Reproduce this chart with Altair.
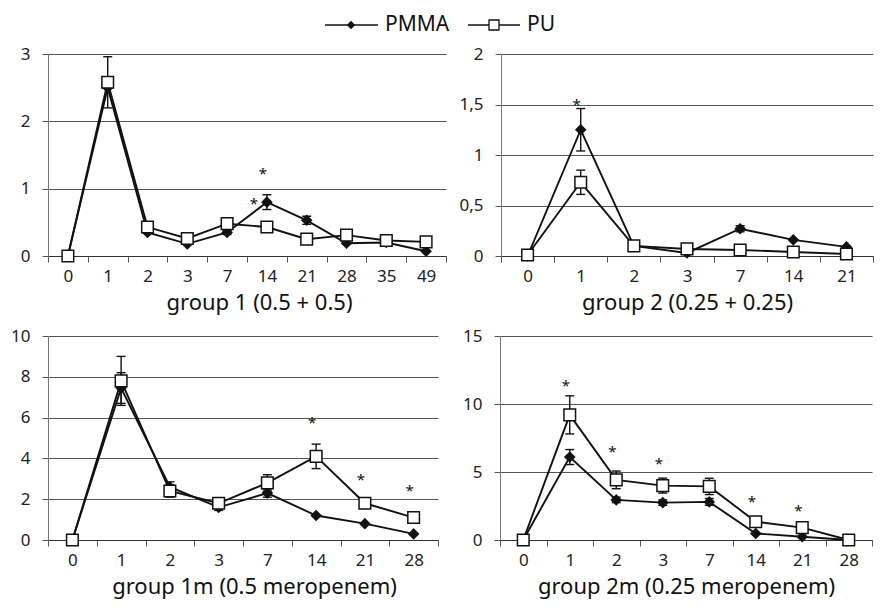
import altair as alt
import pandas as pd

FONT = "Noto Sans"
INK = "#111111"
GRID = "#555555"

series_names = ["PMMA", "PU"]

# ---- group 1 (0.5 + 0.5)
days_1 = ["0", "1", "2", "3", "7", "14", "21", "28", "35", "49"]
pmma_1 = [0.0, 2.5, 0.35, 0.18, 0.35, 0.80, 0.53, 0.19, 0.20, 0.07]
pmma_1_err = [0, 0, 0, 0, 0.03, 0.11, 0.06, 0, 0, 0]
pu_1 = [0.0, 2.58, 0.43, 0.26, 0.48, 0.43, 0.25, 0.31, 0.23, 0.21]
pu_1_err = [0, 0.38, 0, 0, 0, 0, 0, 0, 0, 0]
star_1_days = ["14"]
star_1_vals = [1.27]
star_1_side_days = ["14"]
star_1_side_vals = [0.83]

# ---- group 2 (0.25 + 0.25)
days_2 = ["0", "1", "2", "3", "7", "14", "21"]
pmma_2 = [0.0, 1.25, 0.10, 0.03, 0.27, 0.16, 0.09]
pmma_2_err = [0, 0.21, 0, 0, 0.03, 0, 0]
pu_2 = [0.01, 0.73, 0.10, 0.07, 0.06, 0.04, 0.02]
pu_2_err = [0, 0.12, 0, 0, 0, 0, 0]
star_2_days = ["1"]
star_2_vals = [1.53]

# ---- group 1m (0.5 meropenem)
days_3 = ["0", "1", "2", "3", "7", "14", "21", "28"]
pmma_3 = [0.0, 7.45, 2.6, 1.6, 2.3, 1.2, 0.8, 0.3]
pmma_3_err = [0, 0.75, 0.25, 0.15, 0.2, 0, 0, 0]
pu_3 = [0.0, 7.8, 2.4, 1.8, 2.8, 4.1, 1.8, 1.1]
pu_3_err = [0, 1.2, 0.3, 0, 0.4, 0.6, 0, 0]
star_3_days = ["14", "21", "28"]
star_3_vals = [5.93, 3.12, 2.59]

# ---- group 2m (0.25 meropenem)
days_4 = ["0", "1", "2", "3", "7", "14", "21", "28"]
pmma_4 = [0.0, 6.1, 2.95, 2.75, 2.8, 0.48, 0.24, 0.0]
pmma_4_err = [0, 0.55, 0.2, 0.2, 0.25, 0, 0, 0]
pu_4 = [0.0, 9.2, 4.42, 4.0, 3.94, 1.34, 0.91, 0.0]
pu_4_err = [0, 1.4, 0.65, 0.55, 0.6, 0, 0, 0]
star_4_days = ["1", "2", "3", "14", "21"]
star_4_vals = [11.65, 6.76, 5.88, 3.1, 2.39]


def build_df(days, pmma, pmma_err, pu, pu_err):
    recs = []
    for name, vals, errs in ((series_names[0], pmma, pmma_err), (series_names[1], pu, pu_err)):
        for d, v, e in zip(days, vals, errs):
            recs.append({"day": d, "series": name, "value": v, "err": e,
                         "lo": v - e, "hi": v + e})
    return pd.DataFrame(recs)


def panel(days, pmma, pmma_err, pu, pu_err, star_days, star_vals, ymax, yticks,
          title, width, height, min_ext, title_x=None, side_days=None, side_vals=None):
    df = build_df(days, pmma, pmma_err, pu, pu_err)
    axis_kw = dict(title=title, labelAngle=0, tickBand="extent", grid=False,
                   tickSize=6, labelPadding=6.5, titlePadding=8,
                   domainColor="#333333", tickColor="#555555")
    if title_x is not None:
        axis_kw["titleX"] = title_x
        axis_kw["titleAlign"] = "center"
    xenc = alt.X("day:N", sort=days,
                 scale=alt.Scale(type="band", paddingInner=0, paddingOuter=0),
                 axis=alt.Axis(**axis_kw))
    yscale = alt.Scale(domain=[0, ymax], nice=False, zero=True)
    yaxis = alt.Axis(title=None, values=yticks, grid=True, tickSize=6, labelPadding=12,
                     labelExpr="replace(toString(datum.value), '.', ',')",
                     minExtent=min_ext, domainColor="#777777", tickColor=GRID)

    def Y(field):
        return alt.Y(field, scale=yscale, axis=yaxis)

    base = alt.Chart(df)
    pm = base.transform_filter(alt.datum.series == series_names[0])
    pu = base.transform_filter(alt.datum.series == series_names[1])
    errs = base.transform_filter("datum.err > 0")

    layers = [
        pm.mark_line(color=INK, strokeWidth=1.9).encode(x=xenc, y=Y("value:Q")),
        pu.mark_line(color=INK, strokeWidth=1.9).encode(x=xenc, y=Y("value:Q")),
        errs.mark_rule(color=INK, strokeWidth=1.4).encode(x=xenc, y=Y("lo:Q"), y2="hi:Q"),
        errs.mark_tick(orient="horizontal", size=9, thickness=1.4, color=INK, opacity=1)
            .encode(x=xenc, y=Y("hi:Q")),
        errs.mark_tick(orient="horizontal", size=9, thickness=1.4, color=INK, opacity=1)
            .encode(x=xenc, y=Y("lo:Q")),
        pm.mark_point(shape="diamond", filled=True, color=INK, size=135, opacity=1)
            .encode(x=xenc, y=Y("value:Q")),
        pu.mark_point(shape="square", filled=True, fill="white", stroke=INK,
                      strokeWidth=1.5, size=135, opacity=1)
            .encode(x=xenc, y=Y("value:Q")),
    ]
    sdf = pd.DataFrame({"day": star_days, "value": star_vals})
    layers.append(alt.Chart(sdf).mark_text(text="*", fontSize=15, color=INK, dx=-4, dy=4,
                                           font=FONT)
                  .encode(x=xenc, y=Y("value:Q")))
    if side_days:
        s2 = pd.DataFrame({"day": side_days, "value": side_vals})
        layers.append(alt.Chart(s2).mark_text(text="*", fontSize=15, color=INK, dx=-13, dy=4,
                                              font=FONT)
                      .encode(x=xenc, y=Y("value:Q")))
    return alt.layer(*layers).properties(width=width, height=height)


p1 = panel(days_1, pmma_1, pmma_1_err, pu_1, pu_1_err, star_1_days, star_1_vals,
           3, [0, 1, 2, 3], "group 1 (0.5 + 0.5)", 398, 202, 40, 211,
           star_1_side_days, star_1_side_vals)
p2 = panel(days_2, pmma_2, pmma_2_err, pu_2, pu_2_err, star_2_days, star_2_vals,
           2, [0, 0.5, 1, 1.5, 2], "group 2 (0.25 + 0.25)", 372, 202, 45)
p3 = panel(days_3, pmma_3, pmma_3_err, pu_3, pu_3_err, star_3_days, star_3_vals,
           10, [0, 2, 4, 6, 8, 10], "group 1m (0.5 meropenem)", 390, 204, 40, 206)
p4 = panel(days_4, pmma_4, pmma_4_err, pu_4, pu_4_err, star_4_days, star_4_vals,
           15, [0, 5, 10, 15], "group 2m (0.25 meropenem)", 372, 204, 45)

# ---- legend (drawn manually: line + marker + label), positioned above the panels
leg_pm = alt.Chart(pd.DataFrame({"label": [series_names[0]]}))
leg_pu = alt.Chart(pd.DataFrame({"label": [series_names[1]]}))
LY = 16
legend = alt.layer(
    leg_pm.mark_rule(color=INK, strokeWidth=1.6).encode(x=alt.value(277), x2=alt.value(330), y=alt.value(LY)),
    leg_pm.mark_point(shape="diamond", filled=True, color=INK, size=70, opacity=1)
        .encode(x=alt.value(303), y=alt.value(LY)),
    leg_pm.mark_text(align="left", baseline="middle", fontSize=21, font=FONT, color=INK)
        .encode(x=alt.value(337), y=alt.value(LY), text="label:N"),
    leg_pu.mark_rule(color=INK, strokeWidth=1.6).encode(x=alt.value(420), x2=alt.value(472), y=alt.value(LY)),
    leg_pu.mark_point(shape="square", filled=True, fill="white", stroke=INK, strokeWidth=1.3,
                      size=100, opacity=1)
        .encode(x=alt.value(446), y=alt.value(LY)),
    leg_pu.mark_text(align="left", baseline="middle", fontSize=21, font=FONT, color=INK)
        .encode(x=alt.value(479), y=alt.value(LY), text="label:N"),
).properties(width=520, height=28)

row1 = alt.hconcat(p1, p2, spacing=9)
row2 = alt.hconcat(p3, p4, spacing=16)
rows = alt.vconcat(row1, row2, spacing=13)

chart = (
    alt.vconcat(legend, rows, spacing=8)
    .properties(padding={"left": 0, "top": 1, "right": 0, "bottom": 2})
    .configure(font=FONT)
    .configure_view(stroke=None)
    .configure_axis(labelFont=FONT, labelFontSize=17, labelColor="#222222",
                    titleFont=FONT, titleFontSize=22, titleFontWeight="normal",
                    titleColor="#111111", gridColor=GRID, gridWidth=1)
)

chart.save("out.html", embed_options={"renderer": "svg", "actions": False})
